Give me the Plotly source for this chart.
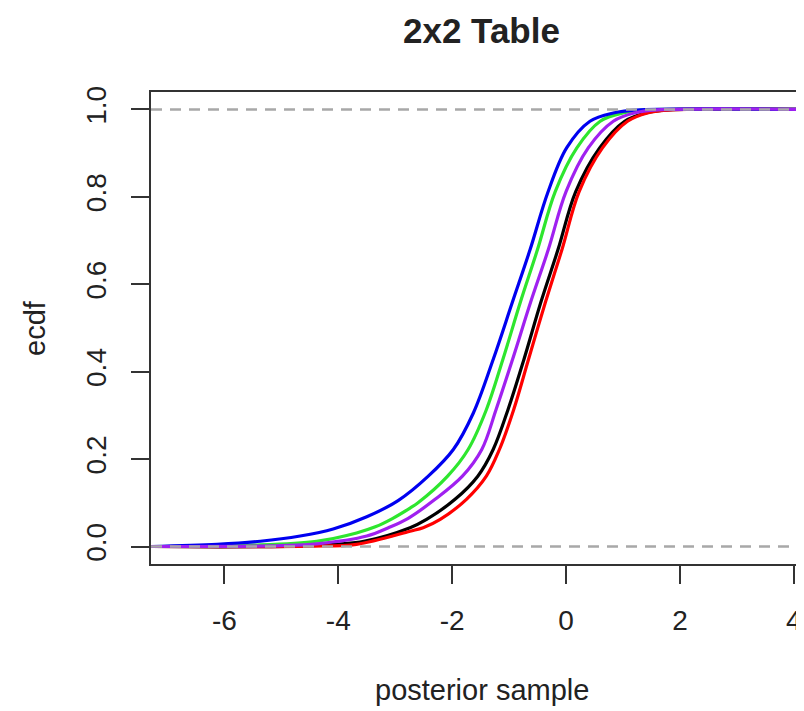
import plotly.graph_objects as go

# Curves: (x, ecdf) pairs per series
blue_x = [-7.29, -6.13, -5.37, -4.67, -4.09, -3.50, -2.95, -2.42, -1.98, -1.63, -1.28, -0.94, -0.63, -0.32, 0.01, 0.42, 0.83, 1.30, 4.32]
blue_y = [0.0, 0.005, 0.012, 0.024, 0.040, 0.068, 0.105, 0.161, 0.222, 0.305, 0.428, 0.560, 0.680, 0.810, 0.912, 0.973, 0.992, 0.999, 1.0]

green_x = [-7.29, -5.50, -4.38, -3.68, -3.35, -3.05, -2.74, -2.60, -2.08, -1.72, -1.40, -1.11, -0.80, -0.50, -0.19, 0.19, 0.60, 1.00, 1.45, 4.32]
green_y = [0.0, 0.003, 0.012, 0.031, 0.045, 0.064, 0.088, 0.100, 0.161, 0.222, 0.313, 0.428, 0.560, 0.680, 0.812, 0.912, 0.973, 0.992, 0.999, 1.0]

purple_x = [-7.29, -5.00, -4.38, -3.50, -3.12, -2.78, -2.30, -1.82, -1.48, -1.23, -0.94, -0.62, -0.31, 0.00, 0.39, 0.83, 1.20, 1.60, 4.32]
purple_y = [0.0, 0.002, 0.006, 0.024, 0.043, 0.064, 0.108, 0.161, 0.222, 0.313, 0.428, 0.560, 0.680, 0.812, 0.912, 0.973, 0.992, 0.999, 1.0]

black_x = [-7.29, -4.50, -3.55, -2.74, -2.45, -1.95, -1.55, -1.28, -1.02, -0.74, -0.44, -0.14, 0.17, 0.59, 1.03, 1.40, 1.80, 4.32]
black_y = [0.0, 0.002, 0.012, 0.043, 0.062, 0.108, 0.161, 0.222, 0.313, 0.428, 0.560, 0.680, 0.812, 0.912, 0.973, 0.992, 0.999, 1.0]

red_x = [-7.29, -4.50, -3.68, -2.74, -2.51, -2.21, -1.75, -1.40, -1.17, -0.92, -0.66, -0.36, -0.07, 0.23, 0.64, 1.08, 1.43, 1.85, 4.32]
red_y = [0.0, 0.001, 0.005, 0.035, 0.043, 0.062, 0.108, 0.161, 0.222, 0.313, 0.428, 0.560, 0.680, 0.812, 0.912, 0.973, 0.992, 0.999, 1.0]

x_ticks = [-6, -4, -2, 0, 2, 4]
y_ticks = [0.0, 0.2, 0.4, 0.6, 0.8, 1.0]
y_tick_labels = ["0.0", "0.2", "0.4", "0.6", "0.8", "1.0"]
ref_levels = [0.0, 1.0]

series = [
    ("black", black_x, black_y, "#000000"),
    ("red", red_x, red_y, "#FF0000"),
    ("green", green_x, green_y, "#2EE62E"),
    ("blue", blue_x, blue_y, "#0000F0"),
    ("purple", purple_x, purple_y, "#A020F0"),
]

FONT = "Liberation Sans, Arial, Helvetica, sans-serif"
TXT = "#222222"

fig = go.Figure()
for name, xs, ys, col in series:
    fig.add_trace(go.Scatter(x=xs, y=ys, mode="lines", name=name,
                             line=dict(color=col, width=3.2, shape="spline", smoothing=1.0),
                             hoverinfo="skip", showlegend=False))

for lv in ref_levels:
    fig.add_shape(type="line", xref="paper", yref="y", x0=0, x1=1, y0=lv, y1=lv,
                  line=dict(color="#A8A8A8", width=2.5, dash="11px,8px"), layer="above")

fig.update_layout(
    width=804, height=711,
    margin=dict(l=143, r=0, t=84, b=155),
    paper_bgcolor="white", plot_bgcolor="white",
    font=dict(family=FONT, size=28, color=TXT),
    xaxis=dict(range=[-7.29, 4.32], tickvals=x_ticks, ticktext=[str(v) for v in x_ticks],
               showgrid=False, zeroline=False, showline=True, mirror=True,
               linecolor="#333333", linewidth=2, ticks="outside", ticklen=18,
               tickwidth=2, tickcolor="#333333", ticklabelstandoff=12,
               tickfont=dict(family=FONT, size=28, color=TXT)),
    yaxis=dict(range=[-0.04, 1.04], tickvals=y_ticks, ticktext=y_tick_labels,
               showgrid=False, zeroline=False, showline=True, mirror=False,
               linecolor="#333333", linewidth=2, ticks="outside", ticklen=18,
               tickwidth=2, tickcolor="#333333", tickangle=-90, ticklabelstandoff=14,
               tickfont=dict(family=FONT, size=28, color=TXT)),
    annotations=[
        dict(text="<b>2x2 Table</b>", xref="paper", yref="paper", x=0.5, y=1,
             yshift=62, xanchor="center", yanchor="middle", showarrow=False,
             font=dict(family=FONT, size=35, color=TXT)),
        dict(text="posterior sample", xref="paper", yref="paper", x=0.5, y=0,
             yshift=-126, xanchor="center", yanchor="middle", showarrow=False,
             font=dict(family=FONT, size=29, color=TXT)),
        dict(text="ecdf", xref="paper", yref="paper", x=0, y=0.5, xshift=-116,
             xanchor="center", yanchor="middle", textangle=-90, showarrow=False,
             font=dict(family=FONT, size=29, color=TXT)),
    ],
)

fig.write_html("out.html")
